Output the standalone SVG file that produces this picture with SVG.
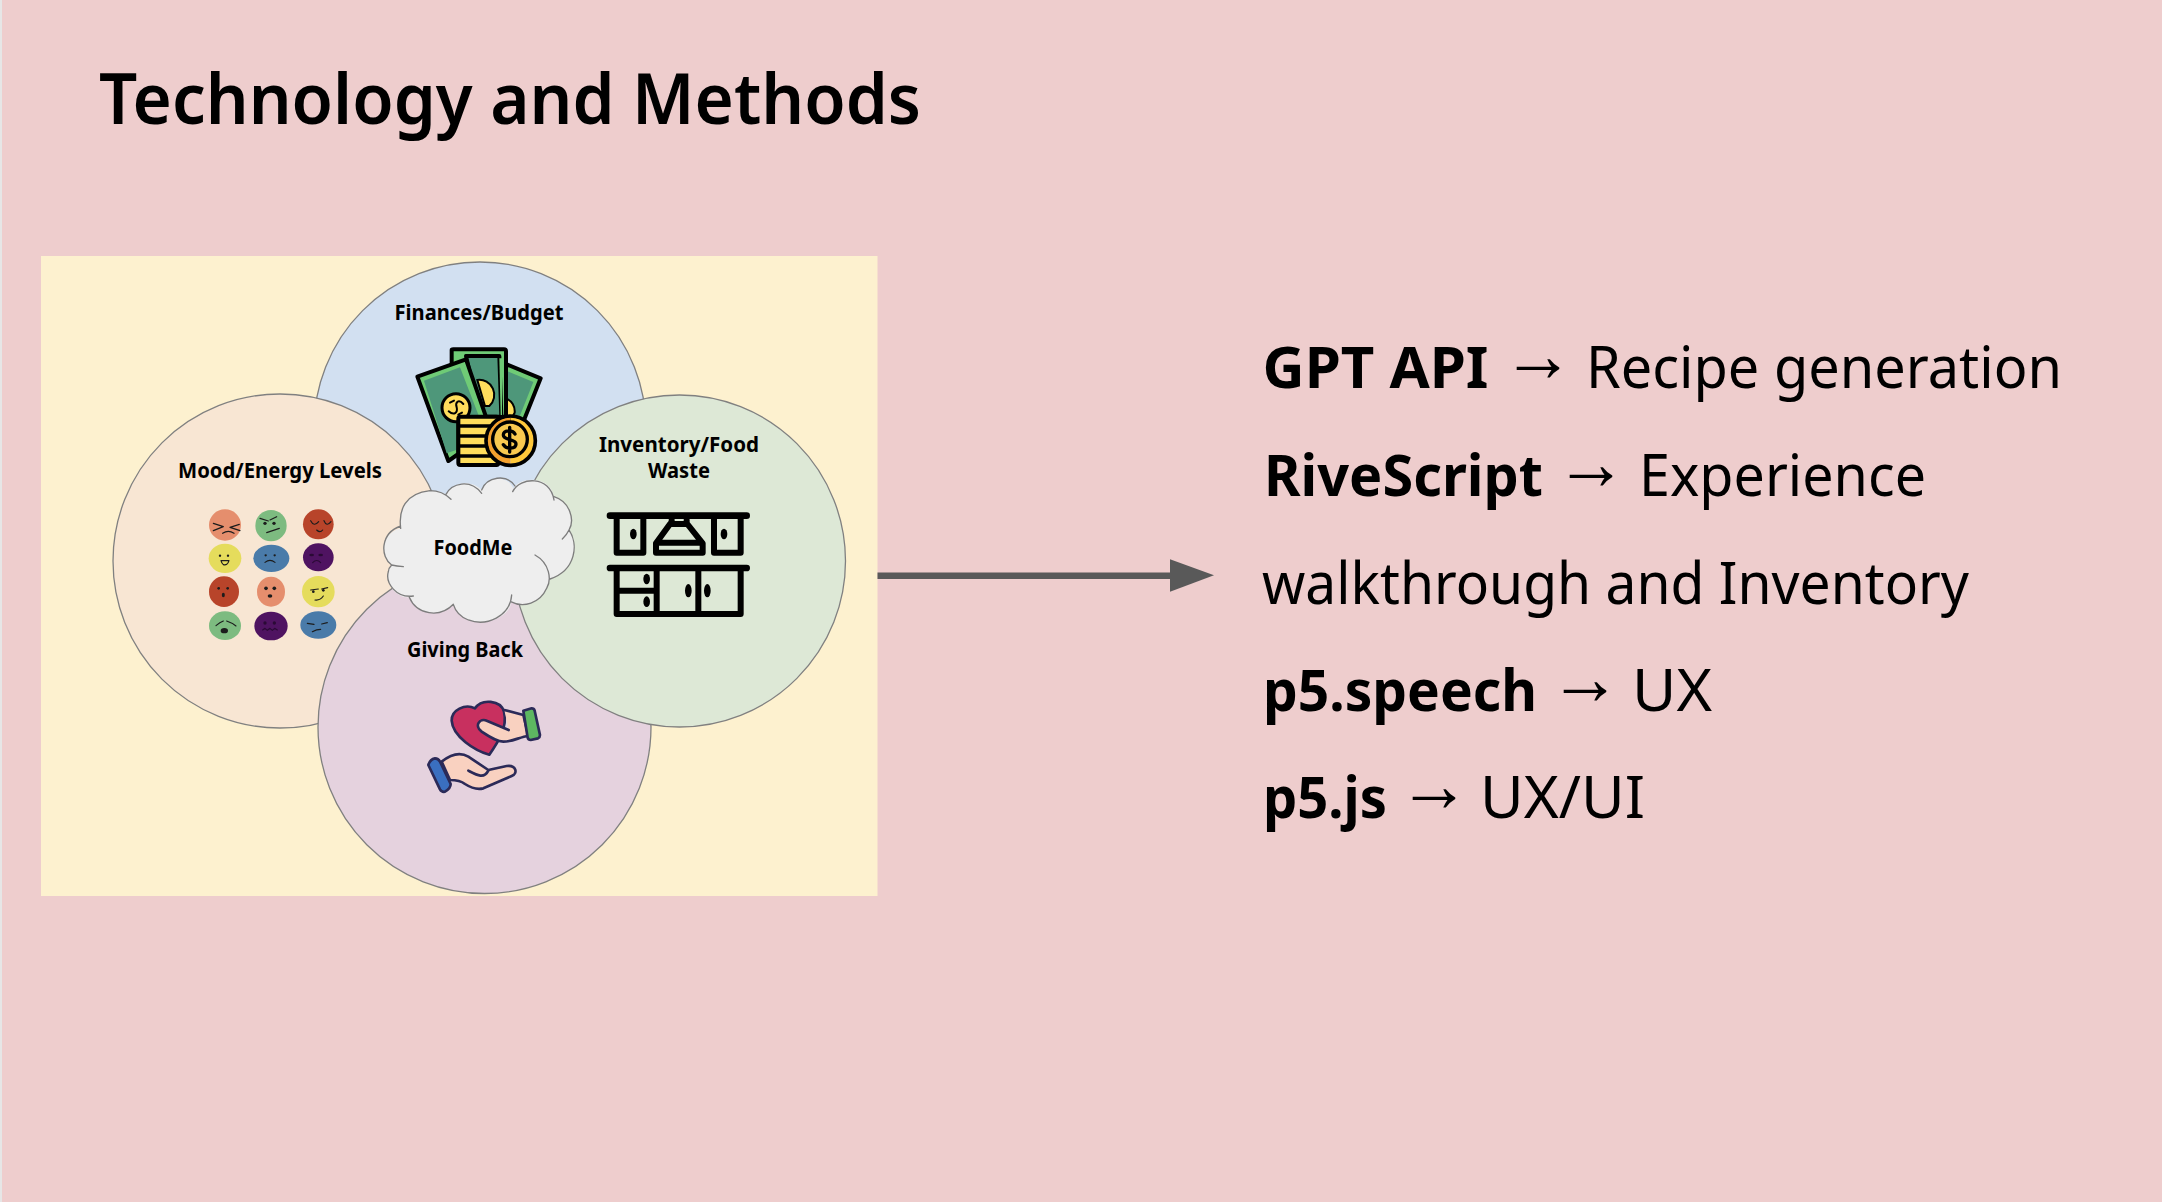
<svg xmlns="http://www.w3.org/2000/svg" width="2162" height="1202" viewBox="0 0 2162 1202">
<style>
text{font-family:"Noto Sans","Liberation Sans",sans-serif;fill:#000}
.title{font-size:71px;font-weight:600}
.b{font-size:57.5px;font-weight:700}
.r{font-size:57.5px;font-weight:400}
.a{font-size:78px;font-weight:700}
.l{font-size:21px;font-weight:700}
.venn{stroke:#808080;stroke-width:1.3}
.f{stroke:#1c1c1c;stroke-width:3.500;fill:none;stroke-linecap:round;stroke-linejoin:round}
.k{stroke:#000;stroke-width:18;fill:none;stroke-linecap:round;stroke-linejoin:round}
.m{stroke:#000;stroke-width:12;stroke-linejoin:round}
.h{stroke:#2b2a58;stroke-width:8;stroke-linejoin:round;stroke-linecap:round}
</style>
<defs>
<marker id="ah" markerUnits="userSpaceOnUse" markerWidth="46" markerHeight="34" refX="0" refY="17" orient="auto"><path d="M0,0.5 L44,16.5 L0,33 Z" fill="#595959"/></marker>
</defs>
<rect width="2162" height="1202" fill="#EECDCD"/>
<rect width="2" height="1202" fill="#E6E6E6"/>
<text id="title" class="title" x="99" y="123.5" textLength="822" lengthAdjust="spacingAndGlyphs">Technology and Methods</text>
<rect id="panel" x="41" y="256" width="836.500" height="640" fill="#FDF1CF"/>

<g id="node-finances">
<circle class="venn" cx="480" cy="428" r="166" fill="#D2E0F1"/>
<text class="l" x="394.500" y="319.800" textLength="169" lengthAdjust="spacingAndGlyphs">Finances/Budget</text>
<g transform="translate(400,330) scale(.33333)">
<path class="m" d="M300,95 L422,145 L372,270 L300,270 Z" fill="#6FCB76"/>
<path d="M318,122 L400,156 L358,262 L318,262 Z" fill="#4E977A"/>
<path d="M318,205 A42,42 0 0 1 344,248 L335,265 L318,265 Z" fill="#FFDD5C" stroke="#000" stroke-width="6"/>
<path class="m" d="M155,60 Q155,58 160,58 L312,58 Q318,58 318,64 L318,260 L155,260 Z" fill="#6FCB76"/>
<path class="m" d="M198,78 L298,78 L304,260 L240,260 Z" fill="#4E977A"/>
<path d="M298,85 L306,85 L306,255 L302,255 Z" fill="#6FCB76"/>
<path d="M232,150 A45,45 0 0 1 268,228 L255,228 Z" fill="#FFDD5C" stroke="#000" stroke-width="6"/>
<path class="m" d="M52,140 L198,88 L262,272 L175,272 L175,372 L145,393 Z" fill="#6FCB76"/>
<path d="M72,152 L180,112 L238,262 L168,262 L168,360 L140,370 Z" fill="#4E977A"/>
<circle cx="168" cy="233" r="42" fill="#FFDD5C" stroke="#000" stroke-width="9"/>
<path class="f" style="stroke:#000;stroke-width:6" d="M190,222 C175,205 165,218 170,232 C174,248 162,258 146,244 M162,212 L150,218 M186,248 L175,254"/>
<rect class="m" x="175" y="260" width="120" height="145" rx="6" fill="#FFDD5C"/>
<path d="M175,288 H290 M175,318 H290 M175,348 H290 M175,378 H290" stroke="#000" stroke-width="10"/>
<path d="M332,262 A70,70 0 0 0 332,402 Z" fill="#F4A12E"/>
<path d="M332,262 A70,70 0 0 1 332,402 Z" fill="#FFC83A"/>
<circle cx="332" cy="332" r="74" fill="none" stroke="#000" stroke-width="11"/>
<circle cx="330" cy="328" r="52" fill="#F9C950" stroke="#000" stroke-width="10"/>
<path d="M345,312 C338,298 310,300 310,315 C310,332 348,326 348,342 C348,358 318,358 310,344 M329,292 V366" fill="none" stroke="#000" stroke-width="10" stroke-linecap="round"/>
</g>
</g>

<g id="node-mood">
<circle class="venn" cx="280" cy="561" r="167" fill="#F8E6D3"/>
<text class="l" x="178" y="478" textLength="204" lengthAdjust="spacingAndGlyphs">Mood/Energy Levels</text>
<g transform="translate(190,490) scale(.33333)">
<ellipse cx="105" cy="105" rx="48" ry="47" fill="#E58E6D"/>
<ellipse cx="243" cy="107" rx="47" ry="47" fill="#7DBB80"/>
<ellipse cx="385" cy="103" rx="46" ry="45" fill="#B8442A"/>
<ellipse cx="105" cy="205" rx="49" ry="44" fill="#E5DC5C"/>
<ellipse cx="244" cy="205" rx="54" ry="41" fill="#4A7BA9"/>
<ellipse cx="385" cy="202" rx="46" ry="42" fill="#4F1361"/>
<ellipse cx="102" cy="305" rx="45" ry="46" fill="#B8442A"/>
<ellipse cx="243" cy="305" rx="42" ry="45" fill="#E58E6D"/>
<ellipse cx="385" cy="305" rx="49" ry="47" fill="#E5DC5C"/>
<ellipse cx="105" cy="407" rx="48" ry="43" fill="#7DBB80"/>
<ellipse cx="243" cy="408" rx="50" ry="43" fill="#4F1361"/>
<ellipse cx="385" cy="405" rx="54" ry="41" fill="#4A7BA9"/>
<path class="f" d="M70,100 L100,110 L70,122 M148,103 L120,112 L150,122 M98,130 Q115,118 132,130"/>
<path class="f" d="M210,85 L235,93 M260,80 L240,90 M230,128 L268,115"/>
<path class="f" d="M362,92 Q372,112 386,95 M402,92 Q410,112 423,95 M380,120 Q390,130 398,120"/>
<path class="f" d="M93,212 L117,212 Q112,228 100,224 Q95,220 93,212 Z"/>
<path class="f" d="M225,217 Q240,205 255,217"/>
<path class="f" style="stroke:#2a0a35" d="M368,218 Q380,205 392,218"/>
<path class="f" d="M362,300 L385,297 M395,297 L413,293 M375,330 Q390,332 400,318"/>
<path class="f" d="M78,407 Q90,397 100,393 M110,393 Q125,398 138,408"/>
<path class="f" style="stroke:#2a0a35" d="M218,420 L225,415 L232,421 L240,415 L247,421 L254,415 L262,420"/>
<path class="f" d="M352,400 L372,403 M395,402 L412,398 M367,425 Q380,418 392,418"/>
<g fill="#1c1c1c">
<circle cx="225" cy="100" r="5"/><circle cx="252" cy="100" r="5"/>
<circle cx="90" cy="197" r="3.500"/><circle cx="114" cy="197" r="3.500"/>
<circle cx="227" cy="196" r="3.500"/><circle cx="254" cy="196" r="3.500"/>
<circle cx="86" cy="295" r="4"/><circle cx="113" cy="295" r="4"/>
<ellipse cx="100" cy="315" rx="4.500" ry="6.500"/>
<circle cx="228" cy="295" r="5.500"/><circle cx="253" cy="295" r="5.500"/>
<ellipse cx="240" cy="318" rx="7" ry="5"/>
<circle cx="370" cy="305" r="4"/><circle cx="400" cy="301" r="4"/>
<ellipse cx="103" cy="422" rx="11" ry="8"/>
</g>
<g fill="#2a0a35">
<ellipse cx="365" cy="195" rx="7" ry="4"/><ellipse cx="392" cy="195" rx="7" ry="4"/>
<circle cx="225" cy="399" r="5"/><circle cx="253" cy="399" r="5"/>
</g>
</g>
</g>

<g id="node-giving">
<circle class="venn" cx="484.500" cy="727" r="166.500" fill="#E5D2DE"/>
<text class="l" x="407" y="657.300" textLength="116" lengthAdjust="spacingAndGlyphs">Giving Back</text>
<g transform="translate(410,690) scale(.33333)">
<path class="h" d="M238,194 C195,182 128,140 125,92 C124,60 165,40 195,55 C215,25 272,30 282,65 C294,112 262,160 238,194 Z" fill="#C8305F"/>
<path class="h" d="M283,60 L340,75 L355,138 C330,140 310,155 280,155 C262,155 245,145 215,125 C192,108 208,82 232,93 L296,120" fill="#F9D1C0"/>
<path class="h" d="M340,62 L365,55 Q372,55 374,62 L390,135 Q390,142 384,145 L362,150 Q355,150 353,143 Z" fill="#5DB761"/>
<path class="h" d="M95,215 C120,195 150,185 175,200 L235,240 L290,228 C318,224 325,250 305,258 L220,295 C200,300 185,295 165,282 C150,270 135,270 120,270 Z" fill="#F9D1C0"/>
<path class="h" d="M175,242 C200,255 222,268 235,242" fill="none"/>
<path class="h" d="M55,225 Q60,208 75,205 Q85,205 90,215 L122,282 Q122,295 105,305 Q95,307 90,298 Z" fill="#3A6FC0"/>
</g>
</g>

<g id="node-inventory">
<circle class="venn" cx="679.500" cy="561" r="166" fill="#DDE8D6"/>
<text class="l" x="599" y="451.500" textLength="160" lengthAdjust="spacingAndGlyphs">Inventory/Food</text>
<text class="l" x="648" y="478" textLength="62" lengthAdjust="spacingAndGlyphs">Waste</text>
<g transform="translate(590,500) scale(.33333)">
<path class="k" style="stroke-width:20" d="M60,47 H470 M60,204 H470"/>
<path class="k" d="M80,55 V158 H160 V55 M372,55 V158 H452 V55"/>
<path class="k" d="M245,60 V72 H290 V60 M240,72 L198,130 V158 H338 V130 L292,72 M200,128 H336"/>
<path class="k" d="M80,210 V342 H452 V210 M200,210 V342 M325,210 V342 M85,272 H200"/>
<g fill="#000">
<ellipse cx="130" cy="102" rx="10" ry="16"/><ellipse cx="402" cy="102" rx="10" ry="16"/>
<ellipse cx="170" cy="237" rx="10" ry="16"/><ellipse cx="170" cy="305" rx="10" ry="16"/>
<ellipse cx="295" cy="272" rx="10" ry="20"/><ellipse cx="352" cy="272" rx="10" ry="20"/>
</g>
</g>
</g>

<g id="node-foodme">
<g transform="translate(370,460) scale(.33333)">
<path fill="#EEEEEE" d="M92,205 C85,150 105,100 180,92 C200,92 215,95 228,103 C245,70 300,55 335,90 C350,50 410,40 430,85 C450,50 540,45 552,110 C600,125 615,180 597,210 C625,250 620,330 540,357 C535,375 535,380 530,385 C510,430 460,445 424,425 C420,470 350,500 295,480 C270,470 255,450 250,433 C210,475 140,465 118,412 C80,415 45,370 55,335 C55,325 60,320 65,315 C30,290 30,220 92,205 Z"/>
<path fill="none" stroke="#7d7d7d" stroke-width="4" stroke-linecap="round" d="M92,205 C85,150 105,100 180,92 C200,92 225,100 243,118 M228,103 C245,70 300,55 335,100 M335,90 C350,50 410,40 435,78 M428,95 C450,50 540,45 552,120 M552,110 C600,125 615,180 597,210 Q590,225 577,237 M597,210 C625,250 620,330 540,357 M495,285 C540,310 545,360 530,385 C510,430 460,445 422,425 M425,405 C420,470 350,500 295,480 C270,470 255,450 250,433 M250,433 C210,475 140,465 118,412 M130,408 C80,415 45,370 55,335 C55,325 60,320 65,315 Q80,318 100,320 M65,315 C30,290 30,220 92,198"/>
</g>
<text class="l" x="433.500" y="555.300" textLength="79" lengthAdjust="spacingAndGlyphs">FoodMe</text>
</g>

<g id="connectors">
<line x1="877.500" y1="575.700" x2="1170" y2="575.700" stroke="#595959" stroke-width="6.500" marker-end="url(#ah)"/>
</g>

<g id="list">
<text class="b" x="1262.500" y="388" textLength="226" lengthAdjust="spacingAndGlyphs">GPT API</text>
<text class="a" x="1502" y="381" textLength="72" lengthAdjust="spacingAndGlyphs">→</text>
<text class="r" x="1586" y="388" textLength="476" lengthAdjust="spacingAndGlyphs">Recipe generation</text>
<text class="b" x="1264" y="495.500" textLength="279" lengthAdjust="spacingAndGlyphs">RiveScript</text>
<text class="a" x="1555" y="488.500" textLength="72" lengthAdjust="spacingAndGlyphs">→</text>
<text class="r" x="1639" y="495.500" textLength="287" lengthAdjust="spacingAndGlyphs">Experience</text>
<text class="r" x="1262" y="604" textLength="707" lengthAdjust="spacingAndGlyphs">walkthrough and Inventory</text>
<text class="b" x="1263" y="711" textLength="274" lengthAdjust="spacingAndGlyphs">p5.speech</text>
<text class="a" x="1549" y="704" textLength="72" lengthAdjust="spacingAndGlyphs">→</text>
<text class="r" x="1632" y="711" textLength="80" lengthAdjust="spacingAndGlyphs">UX</text>
<text class="b" x="1263" y="817.500" textLength="124" lengthAdjust="spacingAndGlyphs">p5.js</text>
<text class="a" x="1398" y="810.500" textLength="72" lengthAdjust="spacingAndGlyphs">→</text>
<text class="r" x="1480" y="817.500" textLength="165" lengthAdjust="spacingAndGlyphs">UX/UI</text>
</g>
</svg>
